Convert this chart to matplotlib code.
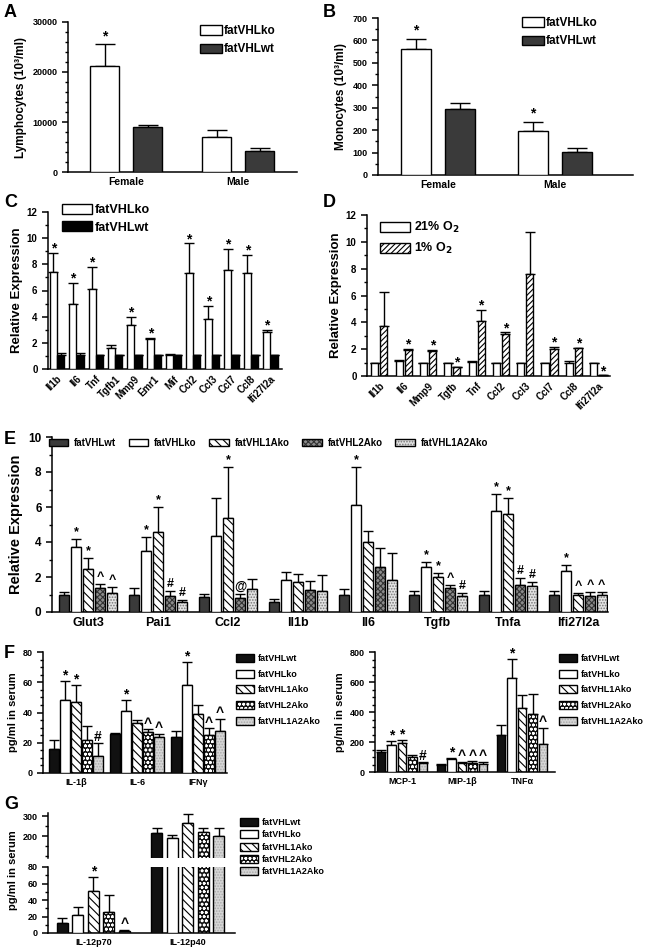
import numpy as np
import matplotlib
matplotlib.use('Agg')
import matplotlib.pyplot as plt
from matplotlib.patches import Patch
from matplotlib.legend_handler import HandlerTuple
from matplotlib.ticker import AutoMinorLocator, MultipleLocator

plt.rcParams['font.family'] = ['Liberation Sans', 'DejaVu Sans']
plt.rcParams['font.weight'] = 'bold'
plt.rcParams['axes.labelweight'] = 'bold'
plt.rcParams['mathtext.default'] = 'bf'
plt.rcParams['hatch.linewidth'] = 0.8
plt.rcParams['axes.linewidth'] = 1.1

# ---------------- data ----------------
sexes = ['Female', 'Male']
lymph_ko = [21200, 7000]
lymph_ko_err = [4300, 1400]
lymph_wt = [9000, 4200]
lymph_wt_err = [400, 500]
lymph_marks = ['*', '']

mono_ko = [560, 198]
mono_ko_err = [45, 37]
mono_wt = [293, 102]
mono_wt_err = [27, 20]
mono_marks = ['*', '*']

genes_c = ['Il1b', 'Il6', 'Tnf', 'Tgfb1', 'Mmp9', 'Emr1', 'Mif', 'Ccl2', 'Ccl3', 'Ccl7', 'Ccl8', 'Ifi27l2a']
c_ko = [7.4, 5.0, 6.1, 1.6, 3.4, 2.3, 1.1, 7.35, 3.8, 7.55, 7.35, 2.85]
c_ko_err = [1.5, 1.6, 1.7, 0.25, 0.55, 0.05, 0.05, 2.25, 1.05, 1.65, 1.4, 0.15]
c_wt = [1.05, 1.05, 1.05, 1.05, 1.05, 1.05, 1.05, 1.05, 1.05, 1.05, 1.05, 1.05]
c_wt_err = [0.2, 0.15, 0.05, 0.05, 0.05, 0.02, 0.02, 0.05, 0.02, 0.05, 0.02, 0.05]
c_marks = ['*', '*', '*', '', '*', '*', '', '*', '*', '*', '*', '*']

genes_d = ['Il1b', 'Il6', 'Mmp9', 'Tgfb', 'Tnf', 'Ccl2', 'Ccl3', 'Ccl7', 'Ccl8', 'Ifi27l2a']
d_21 = [1.0, 1.15, 1.0, 1.0, 1.05, 1.0, 0.95, 1.0, 1.0, 1.0]
d_21_err = [0.0, 0.05, 0.0, 0.0, 0.05, 0.0, 0.05, 0.0, 0.12, 0.0]
d_1 = [3.75, 1.95, 1.85, 0.65, 4.1, 3.1, 7.6, 2.0, 2.05, 0.05]
d_1_err = [2.5, 0.05, 0.07, 0.05, 0.85, 0.15, 3.15, 0.15, 0.07, 0.0]
d_marks = ['', '*', '*', '*', '*', '*', '', '*', '*', '*']

genotypes = ['fatVHLwt', 'fatVHLko', 'fatVHL1Ako', 'fatVHL2Ako', 'fatVHL1A2Ako']

genes_e = ['Glut3', 'Pai1', 'Ccl2', 'Il1b', 'Il6', 'Tgfb', 'Tnfa', 'Ifi27l2a']
e_vals = [
    [1.0, 1.0, 0.85, 0.55, 1.0, 1.0, 1.0, 1.0],
    [3.7, 3.5, 4.35, 1.85, 6.1, 2.6, 5.8, 2.35],
    [2.45, 4.6, 5.4, 1.7, 4.0, 2.0, 5.6, 0.95],
    [1.35, 0.9, 0.8, 1.25, 2.6, 1.35, 1.55, 0.9],
    [1.1, 0.55, 1.3, 1.2, 1.85, 0.9, 1.5, 1.0],
]
e_errs = [
    [0.15, 0.35, 0.2, 0.2, 0.3, 0.2, 0.2, 0.2],
    [0.45, 0.8, 2.15, 0.45, 2.2, 0.25, 0.95, 0.35],
    [0.65, 1.4, 2.9, 0.45, 0.65, 0.25, 0.9, 0.15],
    [0.25, 0.3, 0.25, 0.5, 1.05, 0.2, 0.4, 0.25],
    [0.35, 0.15, 0.6, 0.9, 1.5, 0.2, 0.2, 0.15],
]
e_marks = [
    ['', '', '', '', '', '', '', ''],
    ['*', '*', '', '', '*', '*', '*', '*'],
    ['*', '*', '*', '', '', '*', '*', '^'],
    ['^', '#', '@', '', '', '^', '#', '^'],
    ['^', '#', '', '', '', '#', '#', '^'],
]

cyto_f1 = ['IL-1β', 'IL-6', 'IFNγ']
f1_vals = [[16, 26, 24], [48, 41, 58], [47, 33, 39], [22, 27, 25], [11, 23.5, 28]]
f1_errs = [[6, 0.5, 4], [13, 7, 15.5], [11, 2, 6], [9, 2, 4.5], [9, 2.5, 8]]
f1_marks = [['', '', ''], ['*', '*', '*'], ['*', '', ''], ['', '^', '^'], ['#', '^', '^']]

cyto_f2 = ['MCP-1', 'MIP-1β', 'TNFα']
f2_vals = [[135, 50, 245], [180, 85, 630], [195, 60, 430], [100, 62, 390], [60, 55, 190]]
f2_errs = [[10, 5, 70], [25, 10, 125], [20, 10, 85], [15, 10, 130], [10, 15, 105]]
f2_marks = [['', '', ''], ['*', '*', '*'], ['*', '^', ''], ['', '^', ''], ['#', '^', '^']]

cyto_g = ['IL-12p70', 'IL-12p40']
g_vals = [[12, 215], [22, 190], [51, 265], [25, 220], [3, 200]]
g_errs = [[6, 25], [9, 15], [17, 45], [21, 20], [1, 40]]
g_marks = [['', ''], ['', ''], ['*', ''], ['', ''], ['^', '']]
no_marks = [['', ''] for _ in range(5)]

# ---------------- styles ----------------
W, H = 650, 949
fig = plt.figure(figsize=(W / 100, H / 100), dpi=100)
fig.patch.set_facecolor('white')

# (face, hatch, hatch colour)
style_e = [('#3a3a3a', None, None), ('white', None, None), ('white', '\\\\\\\\', 'black'),
           ('#8c8c8c', 'xxxxxx', '#333333'), ('#e4e4e4', '......', '#777777')]
style_fg = [('#111111', None, None), ('white', None, None), ('white', '\\\\\\\\', 'black'),
            ('#111111', 'oooo', 'white'), ('#d6d6d6', '......', '#aaaaaa')]
tuple_map = {tuple: HandlerTuple(ndivide=1, pad=0)}


def add_ax(l, t, r, b):
    ax = fig.add_axes([l / W, 1 - b / H, (r - l) / W, (b - t) / H])
    for s in ['top', 'right']:
        ax.spines[s].set_visible(False)
    ax.tick_params(axis='x', length=0)
    ax.tick_params(axis='y', which='major', length=4, width=1.1)
    ax.tick_params(axis='y', which='minor', length=2, width=1.0)
    return ax


def draw_bars(ax, x, vals, errs, st, width, capsize, lw=1.0):
    face, hatch, hcol = st
    if hatch:
        ax.bar(x, vals, width, color=face, edgecolor=hcol, hatch=hatch, linewidth=0, zorder=2)
        ax.bar(x, vals, width, fill=False, edgecolor='black', linewidth=lw, zorder=3)
    else:
        ax.bar(x, vals, width, color=face, edgecolor='black', linewidth=lw, zorder=3)
    ax.errorbar(x, vals, yerr=[np.zeros(len(vals)), errs], fmt='none', ecolor='black',
                elinewidth=1.0, capsize=capsize, capthick=1.0, zorder=1)


def handle(st):
    face, hatch, hcol = st
    if hatch:
        return (Patch(facecolor=face, edgecolor=hcol, hatch=hatch, linewidth=0),
                Patch(fill=False, edgecolor='black', linewidth=1.0))
    return Patch(facecolor=face, edgecolor='black', linewidth=1.0)


def put_marks(ax, x, vals, errs, marks, size, off):
    for xi, v, e, m in zip(x, vals, errs, marks):
        if m:
            ax.text(xi, v + e + off, m, ha='center', va='bottom', fontsize=size, fontweight='bold')


def panel_label(txt, x, y):
    fig.text(x / W, 1 - y / H, txt, fontsize=13, fontweight='bold', va='top', ha='left')


# ---------------- A ----------------
ax = add_ax(68, 22, 297, 172)
x = np.arange(2)
draw_bars(ax, x - 0.192, lymph_ko, lymph_ko_err, style_e[1], 0.26, 7)
draw_bars(ax, x + 0.192, lymph_wt, lymph_wt_err, style_e[0], 0.26, 7)
put_marks(ax, x - 0.192, lymph_ko, lymph_ko_err, lymph_marks, 10, 300)
ax.set_xlim(-0.52, 1.527)
ax.set_ylim(0, 30000)
ax.set_yticks([0, 10000, 20000, 30000])
ax.yaxis.set_minor_locator(AutoMinorLocator(5))
ax.set_xticks(x)
ax.set_xticklabels(sexes, fontsize=7.5)
ax.tick_params(axis='y', labelsize=6.5)
ax.set_ylabel('Lymphocytes (10³/ml)', fontsize=8.5, labelpad=4)
ax.legend([handle(style_e[1]), handle(style_e[0])], ['fatVHLko', 'fatVHLwt'],
          loc='upper left', bbox_to_anchor=(200 / W, 1 - 25 / H), bbox_transform=fig.transFigure,
          frameon=False, fontsize=8.5, handlelength=1.85, handleheight=0.85,
          handletextpad=0.2, labelspacing=0.55, borderpad=0, borderaxespad=0)
panel_label('A', 4, 4)

# ---------------- B ----------------
ax = add_ax(378, 18, 633, 175)
draw_bars(ax, x - 0.188, mono_ko, mono_ko_err, style_e[1], 0.256, 7)
draw_bars(ax, x + 0.188, mono_wt, mono_wt_err, style_e[0], 0.256, 7)
put_marks(ax, x - 0.188, mono_ko, mono_ko_err, mono_marks, 10, 8)
ax.set_xlim(-0.513, 1.667)
ax.set_ylim(0, 700)
ax.yaxis.set_major_locator(MultipleLocator(100))
ax.yaxis.set_minor_locator(AutoMinorLocator(2))
ax.set_xticks(x)
ax.set_xticklabels(sexes, fontsize=7.5)
ax.tick_params(axis='y', labelsize=6.5)
ax.set_ylabel('Monocytes (10³/ml)', fontsize=8.5, labelpad=4)
ax.legend([handle(style_e[1]), handle(style_e[0])], ['fatVHLko', 'fatVHLwt'],
          loc='upper left', bbox_to_anchor=(522 / W, 1 - 17 / H), bbox_transform=fig.transFigure,
          frameon=False, fontsize=8.5, handlelength=1.85, handleheight=0.85,
          handletextpad=0.2, labelspacing=0.55, borderpad=0, borderaxespad=0)
panel_label('B', 323, 4)

# ---------------- C ----------------
ax = add_ax(48, 212, 282, 369)
xc = np.arange(len(genes_c))
draw_bars(ax, xc - 0.19, c_ko, c_ko_err, style_e[1], 0.36, 3.5)
draw_bars(ax, xc + 0.19, c_wt, c_wt_err, ('black', None, None), 0.36, 3.5)
put_marks(ax, xc - 0.19, c_ko, c_ko_err, c_marks, 10, -0.2)
ax.set_xlim(-0.46, 11.6)
ax.set_ylim(0, 12)
ax.yaxis.set_major_locator(MultipleLocator(2))
ax.yaxis.set_minor_locator(AutoMinorLocator(2))
ax.set_xticks(xc)
ax.set_xticklabels(genes_c, fontsize=7, rotation=45, ha='right', rotation_mode='anchor')
ax.tick_params(axis='y', labelsize=7)
ax.set_ylabel('Relative Expression', fontsize=9.5, labelpad=3)
ax.legend([handle(style_e[1]), handle(('black', None, None))], ['fatVHLko', 'fatVHLwt'],
          loc='upper left', bbox_to_anchor=(62 / W, 1 - 204 / H), bbox_transform=fig.transFigure,
          frameon=False, fontsize=9, handlelength=2.4, handleheight=0.85,
          handletextpad=0.2, labelspacing=0.4, borderpad=0, borderaxespad=0)
panel_label('C', 4, 194)

# ---------------- D ----------------
ax = add_ax(367, 215, 610, 376)
xd = np.arange(len(genes_d))
st_1 = ('white', '//////', 'black')
draw_bars(ax, xd - 0.185, d_21, d_21_err, style_e[1], 0.29, 3.5)
draw_bars(ax, xd + 0.185, d_1, d_1_err, st_1, 0.29, 3.5)
put_marks(ax, xd + 0.185, d_1, d_1_err, d_marks, 10, -0.2)
ax.set_xlim(-0.51, 9.49)
ax.set_ylim(0, 12)
ax.yaxis.set_major_locator(MultipleLocator(2))
ax.yaxis.set_minor_locator(AutoMinorLocator(2))
ax.set_xticks(xd)
ax.set_xticklabels(genes_d, fontsize=7, rotation=45, ha='right', rotation_mode='anchor')
ax.tick_params(axis='y', labelsize=7)
ax.set_ylabel('Relative Expression', fontsize=9.5, labelpad=3)
ax.legend([handle(style_e[1]), handle(st_1)], ['21% O$_2$', '1% O$_2$'],
          loc='upper left', bbox_to_anchor=(380 / W, 1 - 220 / H), bbox_transform=fig.transFigure,
          frameon=False, fontsize=9, handlelength=2.4, handleheight=0.85,
          handletextpad=0.3, labelspacing=0.5, borderpad=0, borderaxespad=0,
          handler_map=tuple_map)
panel_label('D', 323, 194)

# ---------------- E ----------------
ax = add_ax(52, 437, 608, 612)
xe = np.arange(len(genes_e))
for i in range(5):
    xi = xe + (i - 2) * 0.171
    draw_bars(ax, xi, e_vals[i], e_errs[i], style_e[i], 0.143, 3.5)
    put_marks(ax, xi, e_vals[i], e_errs[i], e_marks[i], 9, 0.05)
ax.set_xlim(-0.514, 7.43)
ax.set_ylim(0, 10)
ax.yaxis.set_major_locator(MultipleLocator(2))
ax.yaxis.set_minor_locator(AutoMinorLocator(2))
ax.set_xticks(xe)
ax.set_xticklabels(genes_e, fontsize=9)
ax.tick_params(axis='y', labelsize=8.5)
ax.set_ylabel('Relative Expression', fontsize=10.5, labelpad=4)
ax.legend([handle(s) for s in style_e], genotypes, ncol=5,
          loc='upper left', bbox_to_anchor=(49 / W, 1 - 438 / H), bbox_transform=fig.transFigure,
          frameon=False, fontsize=7, handlelength=2.0, handleheight=0.8,
          handletextpad=0.6, columnspacing=1.3, borderpad=0, borderaxespad=0,
          handler_map=tuple_map)
panel_label('E', 4, 431)


# ---------------- F ----------------
def cyto_panel(ax, names, vals, errs, marks, pitch, width, off):
    xx = np.arange(len(names))
    for i in range(5):
        xi = xx + (i - 2) * pitch
        draw_bars(ax, xi, vals[i], errs[i], style_fg[i], width, 3.5)
        put_marks(ax, xi, vals[i], errs[i], marks[i], 10, off)
    ax.set_xticks(xx)
    ax.set_xticklabels(names, fontsize=6.5)
    ax.tick_params(axis='y', labelsize=6.5)


def cyto_legend(x0, y0, spacing):
    fig.legend([handle(s) for s in style_fg], genotypes,
               loc='upper left', bbox_to_anchor=(x0 / W, 1 - y0 / H), bbox_transform=fig.transFigure,
               frameon=False, fontsize=6.5, handlelength=2.0, handleheight=1.0,
               handletextpad=0.4, labelspacing=spacing, borderpad=0, borderaxespad=0,
               handler_map=tuple_map)


ax = add_ax(43, 652, 227, 773)
cyto_panel(ax, cyto_f1, f1_vals, f1_errs, f1_marks, 0.18, 0.15, -1)
ax.set_xlim(-0.54, 2.475)
ax.set_ylim(0, 80)
ax.yaxis.set_major_locator(MultipleLocator(20))
ax.yaxis.set_minor_locator(AutoMinorLocator(4))
ax.set_ylabel('pg/ml in serum', fontsize=8, labelpad=3)
cyto_legend(236, 654, 0.72)

ax = add_ax(375, 652, 555, 772)
cyto_panel(ax, cyto_f2, f2_vals, f2_errs, f2_marks, 0.175, 0.145, -10)
ax.set_xlim(-0.45, 2.55)
ax.set_ylim(0, 800)
ax.yaxis.set_major_locator(MultipleLocator(200))
ax.yaxis.set_minor_locator(AutoMinorLocator(4))
ax.set_ylabel('pg/ml in serum', fontsize=8, labelpad=3)
cyto_legend(559, 654, 0.72)
panel_label('F', 4, 645)

# ---------------- G (broken axis) ----------------
ax_lo = add_ax(48, 867, 235, 933)
ax_hi = add_ax(48, 813, 235, 858)
cyto_panel(ax_lo, cyto_g, g_vals, g_errs, g_marks, 0.164, 0.116, -2)
cyto_panel(ax_hi, cyto_g, g_vals, g_errs, no_marks, 0.164, 0.116, -2)
for a in (ax_lo, ax_hi):
    a.set_xlim(-0.48, 1.5)
ax_lo.set_ylim(0, 80)
ax_lo.yaxis.set_major_locator(MultipleLocator(20))
ax_lo.yaxis.set_minor_locator(AutoMinorLocator(2))
ax_hi.set_ylim(90, 315)
ax_hi.set_yticks([200, 300])
ax_hi.yaxis.set_minor_locator(MultipleLocator(50))
ax_hi.spines['bottom'].set_visible(False)
ax_hi.set_xticks([])
fig.text(13 / W, 1 - 870 / H, 'pg/ml in serum', rotation=90, fontsize=8,
         fontweight='bold', ha='center', va='center')
cyto_legend(240, 818, 0.35)
panel_label('G', 4, 796)

fig.savefig('out.png', dpi=100, facecolor='white')
